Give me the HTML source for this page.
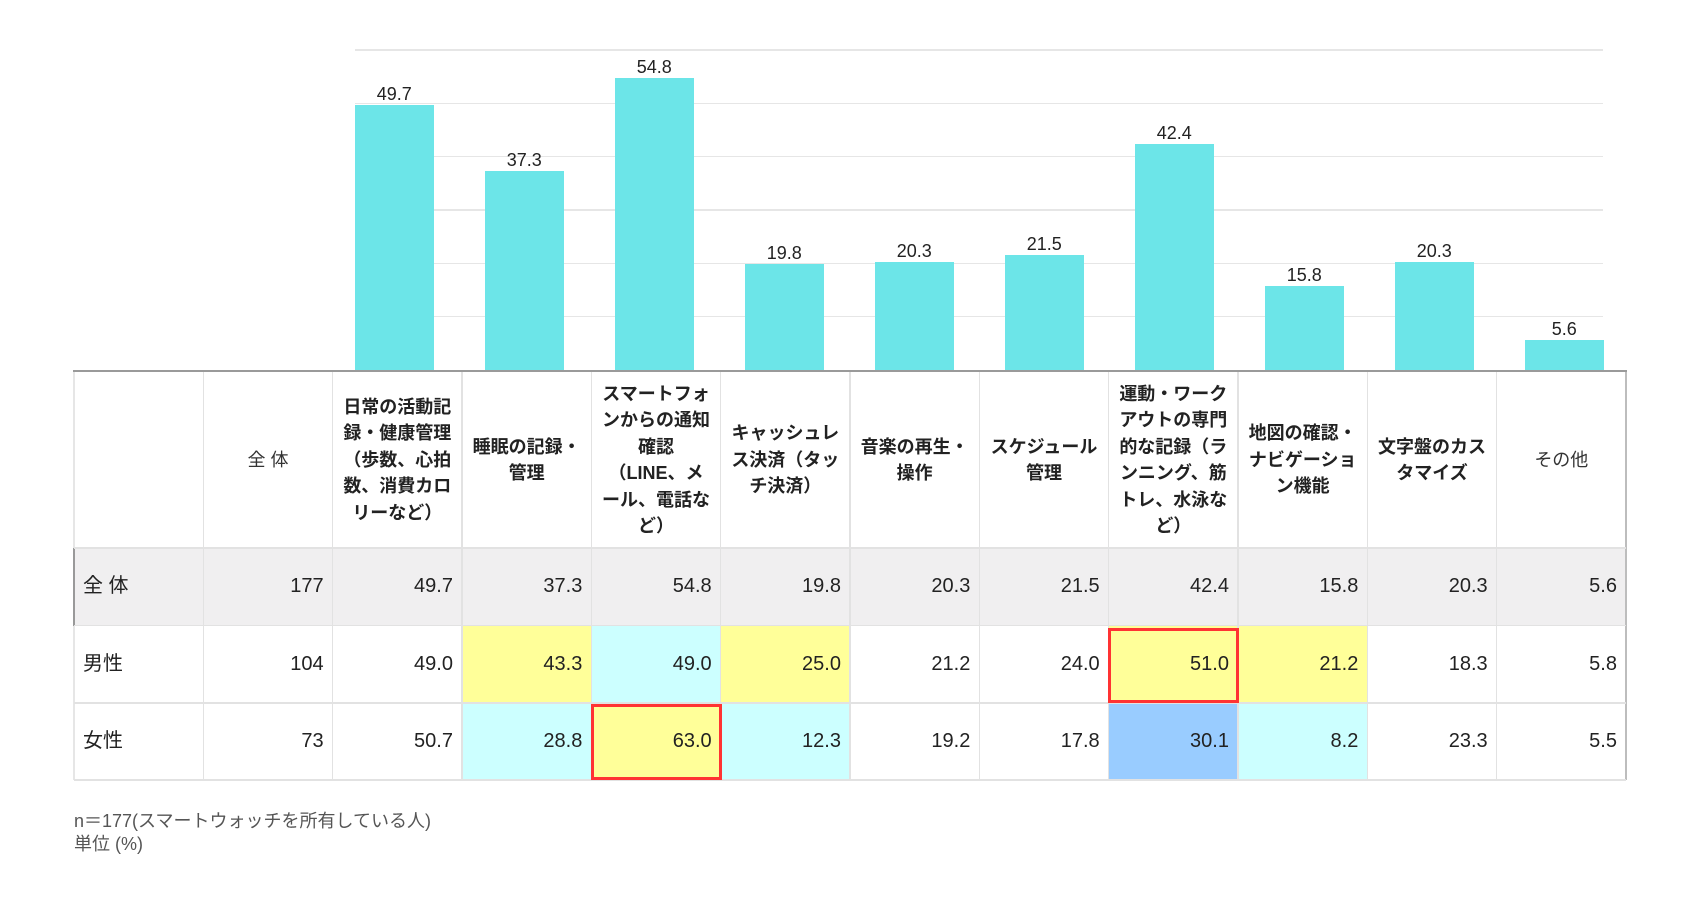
<!DOCTYPE html>
<html><head><meta charset="utf-8"><style>
*{margin:0;padding:0;box-sizing:border-box}
body{width:1700px;height:900px;background:#fff;position:relative;overflow:hidden;font-family:"Liberation Sans","Noto Sans CJK JP",sans-serif;color:#222}
.a{position:absolute}
.g{position:absolute;left:355px;width:1248px;height:1.5px;background:#e6e6e6}
.bar{position:absolute;width:78.6px;background:#6ce5e8}
.bl{position:absolute;width:130px;text-align:center;font-size:18px;line-height:24px;height:24px;color:#222}
.vl{position:absolute;top:372px;height:408px;width:1.5px;background:#e2e2e2}
.hl{position:absolute;left:74px;width:1552px;height:1.5px;background:#e2e2e2}
.hd{position:absolute;top:372px;height:176px;width:129.33px;display:flex;align-items:center;justify-content:center;text-align:center;font-size:18px;line-height:26.5px;font-weight:bold;white-space:nowrap;color:#222}
.hd.n{font-weight:normal;color:#333}
.c{position:absolute;width:129.33px;font-size:20px;text-align:right;padding-right:9px;color:#222;white-space:nowrap}
.lb{text-align:left;padding-left:9px;padding-right:0}
.y{background:#ffff99}.cy{background:#ccffff}.b{background:#99ccff}
.r{position:absolute;border:3.5px solid #ff3333;width:131px}
</style></head><body>

<div class="g" style="top:49.25px"></div>
<div class="g" style="top:102.6px"></div>
<div class="g" style="top:155.9px"></div>
<div class="g" style="top:209.25px"></div>
<div class="g" style="top:262.6px"></div>
<div class="g" style="top:315.9px"></div>

<div class="bar" style="left:355px;top:104.9px;height:265.1px"></div>
<div class="bar" style="left:485px;top:171.1px;height:198.9px"></div>
<div class="bar" style="left:615px;top:77.7px;height:292.3px"></div>
<div class="bar" style="left:745px;top:264.4px;height:105.6px"></div>
<div class="bar" style="left:875px;top:261.7px;height:108.3px"></div>
<div class="bar" style="left:1005px;top:255.3px;height:114.7px"></div>
<div class="bar" style="left:1135px;top:143.9px;height:226.1px"></div>
<div class="bar" style="left:1265px;top:285.7px;height:84.3px"></div>
<div class="bar" style="left:1395px;top:261.7px;height:108.3px"></div>
<div class="bar" style="left:1525px;top:340.1px;height:29.9px"></div>

<div class="bl" style="left:329.3px;top:81.7px">49.7</div>
<div class="bl" style="left:459.3px;top:147.8px">37.3</div>
<div class="bl" style="left:589.3px;top:54.5px">54.8</div>
<div class="bl" style="left:719.3px;top:241.2px">19.8</div>
<div class="bl" style="left:849.3px;top:238.5px">20.3</div>
<div class="bl" style="left:979.3px;top:232.1px">21.5</div>
<div class="bl" style="left:1109.3px;top:120.6px">42.4</div>
<div class="bl" style="left:1239.3px;top:262.5px">15.8</div>
<div class="bl" style="left:1369.3px;top:238.5px">20.3</div>
<div class="bl" style="left:1499.3px;top:316.9px">5.6</div>

<div class="a" style="left:74px;top:548px;width:1552px;height:77.5px;background:#f0eff0"></div>
<div class="a y" style="left:462px;top:625.5px;width:129.33px;height:77.5px"></div>
<div class="a cy" style="left:591.33px;top:625.5px;width:129.33px;height:77.5px"></div>
<div class="a y" style="left:720.67px;top:625.5px;width:129.33px;height:77.5px"></div>
<div class="a y" style="left:1108.67px;top:625.5px;width:129.33px;height:77.5px"></div>
<div class="a y" style="left:1238px;top:625.5px;width:129.33px;height:77.5px"></div>
<div class="a cy" style="left:462px;top:703px;width:129.33px;height:77px"></div>
<div class="a y" style="left:591.33px;top:703px;width:129.33px;height:77px"></div>
<div class="a cy" style="left:720.67px;top:703px;width:129.33px;height:77px"></div>
<div class="a b" style="left:1108.67px;top:703px;width:129.33px;height:77px"></div>
<div class="a cy" style="left:1238px;top:703px;width:129.33px;height:77px"></div>

<div class="vl" style="left:73px;width:2px;background:#e6e6e6"></div>
<div class="vl" style="left:202.6px"></div>
<div class="vl" style="left:331.9px"></div>
<div class="vl" style="left:461.3px"></div>
<div class="vl" style="left:590.6px"></div>
<div class="vl" style="left:719.9px"></div>
<div class="vl" style="left:849.3px"></div>
<div class="vl" style="left:978.6px"></div>
<div class="vl" style="left:1107.9px"></div>
<div class="vl" style="left:1237.3px"></div>
<div class="vl" style="left:1366.6px"></div>
<div class="vl" style="left:1495.9px"></div>
<div class="vl" style="left:1625px;width:2px;background:#bdbdbd"></div>
<div class="a" style="left:73px;top:548px;width:2px;height:77.5px;background:#999"></div>

<div class="hl" style="top:547.3px"></div>
<div class="hl" style="top:624.8px"></div>
<div class="hl" style="top:702.3px"></div>
<div class="hl" style="top:779.3px"></div>
<div class="a" style="left:73px;top:370px;width:1554px;height:2px;background:#9a9a9a"></div>

<div class="hd n" style="left:203.33px">全 体</div>
<div class="hd" style="left:332.67px">日常の活動記<br>録・健康管理<br>（歩数、心拍<br>数、消費カロ<br>リーなど）</div>
<div class="hd" style="left:462px">睡眠の記録・<br>管理</div>
<div class="hd" style="left:591.33px">スマートフォ<br>ンからの通知<br>確認<br>（LINE、メ<br>ール、電話な<br>ど）</div>
<div class="hd" style="left:720.67px">キャッシュレ<br>ス決済（タッ<br>チ決済）</div>
<div class="hd" style="left:850px">音楽の再生・<br>操作</div>
<div class="hd" style="left:979.33px">スケジュール<br>管理</div>
<div class="hd" style="left:1108.67px">運動・ワーク<br>アウトの専門<br>的な記録（ラ<br>ンニング、筋<br>トレ、水泳な<br>ど）</div>
<div class="hd" style="left:1238px">地図の確認・<br>ナビゲーショ<br>ン機能</div>
<div class="hd" style="left:1367.33px">文字盤のカス<br>タマイズ</div>
<div class="hd n" style="left:1496.67px">その他</div>

<div class="c lb" style="left:74px;top:548px;height:77.5px;line-height:77.5px">全 体</div>
<div class="c" style="left:203.33px;top:548px;line-height:77.5px">177</div>
<div class="c" style="left:332.67px;top:548px;line-height:77.5px">49.7</div>
<div class="c" style="left:462px;top:548px;line-height:77.5px">37.3</div>
<div class="c" style="left:591.33px;top:548px;line-height:77.5px">54.8</div>
<div class="c" style="left:720.67px;top:548px;line-height:77.5px">19.8</div>
<div class="c" style="left:850px;top:548px;line-height:77.5px">20.3</div>
<div class="c" style="left:979.33px;top:548px;line-height:77.5px">21.5</div>
<div class="c" style="left:1108.67px;top:548px;line-height:77.5px">42.4</div>
<div class="c" style="left:1238px;top:548px;line-height:77.5px">15.8</div>
<div class="c" style="left:1367.33px;top:548px;line-height:77.5px">20.3</div>
<div class="c" style="left:1496.67px;top:548px;line-height:77.5px">5.6</div>

<div class="c lb" style="left:74px;top:625.5px;line-height:77.5px">男性</div>
<div class="c" style="left:203.33px;top:625.5px;line-height:77.5px">104</div>
<div class="c" style="left:332.67px;top:625.5px;line-height:77.5px">49.0</div>
<div class="c" style="left:462px;top:625.5px;line-height:77.5px">43.3</div>
<div class="c" style="left:591.33px;top:625.5px;line-height:77.5px">49.0</div>
<div class="c" style="left:720.67px;top:625.5px;line-height:77.5px">25.0</div>
<div class="c" style="left:850px;top:625.5px;line-height:77.5px">21.2</div>
<div class="c" style="left:979.33px;top:625.5px;line-height:77.5px">24.0</div>
<div class="c" style="left:1108.67px;top:625.5px;line-height:77.5px">51.0</div>
<div class="c" style="left:1238px;top:625.5px;line-height:77.5px">21.2</div>
<div class="c" style="left:1367.33px;top:625.5px;line-height:77.5px">18.3</div>
<div class="c" style="left:1496.67px;top:625.5px;line-height:77.5px">5.8</div>

<div class="c lb" style="left:74px;top:703px;line-height:77px">女性</div>
<div class="c" style="left:203.33px;top:703px;line-height:77px">73</div>
<div class="c" style="left:332.67px;top:703px;line-height:77px">50.7</div>
<div class="c" style="left:462px;top:703px;line-height:77px">28.8</div>
<div class="c" style="left:591.33px;top:703px;line-height:77px">63.0</div>
<div class="c" style="left:720.67px;top:703px;line-height:77px">12.3</div>
<div class="c" style="left:850px;top:703px;line-height:77px">19.2</div>
<div class="c" style="left:979.33px;top:703px;line-height:77px">17.8</div>
<div class="c" style="left:1108.67px;top:703px;line-height:77px">30.1</div>
<div class="c" style="left:1238px;top:703px;line-height:77px">8.2</div>
<div class="c" style="left:1367.33px;top:703px;line-height:77px">23.3</div>
<div class="c" style="left:1496.67px;top:703px;line-height:77px">5.5</div>

<div class="r" style="left:590.7px;top:704px;height:76px"></div>
<div class="r" style="left:1108px;top:627.5px;height:75.5px"></div>

<div class="a" style="left:74px;top:810px;font-size:18px;line-height:23.3px;color:#555;white-space:nowrap">n＝177(スマートウォッチを所有している人)<br>単位 (%)</div>

</body></html>
